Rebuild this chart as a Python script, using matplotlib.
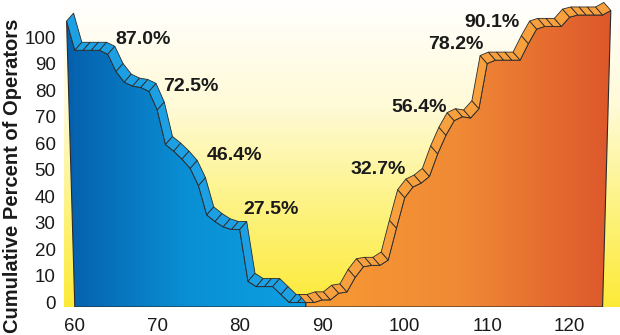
import numpy as np
import matplotlib
matplotlib.use("Agg")
import matplotlib.pyplot as plt
from matplotlib.colors import LinearSegmentedColormap
from matplotlib.patches import Polygon

# ---------------- data ----------------
blue_x = list(range(59, 89))
blue_y = [106, 95, 95, 95, 95, 93.5, 87.0, 83, 81.5, 81, 79.5, 72.5, 59.5, 57, 54,
          50.5, 44, 33, 30.5, 28.5, 27.5, 27.5, 8, 6, 6, 6, 3, 0, 0, 0]

orange_x = list(range(88, 126))
orange_y = [0, 0, 1, 1, 3.5, 4, 9.5, 13.5, 14, 14, 16, 28, 39.5, 43.5, 45, 47.5, 56,
            63, 68.5, 70, 69.5, 73, 90, 91.3, 91.3, 91.3, 91.3, 97.5, 103, 104, 104,
            104, 107.5, 108.3, 108.3, 108.3, 108.3, 110]

left_labels = ["87.0%", "72.5%", "46.4%", "27.5%"]
left_label_x = [64.9, 70.7, 76.0, 80.4]
left_label_y = [98.9, 81.2, 55.5, 34.9]
right_labels = ["32.7%", "56.4%", "78.2%", "90.1%"]
right_label_x = [100.2, 105.1, 109.6, 114.0]
right_label_y = [50.0, 73.6, 97.0, 105.3]

x_ticks = [60, 70, 80, 90, 100, 110, 120]
y_ticks = list(range(0, 101, 10))
y_label = "Cumulative Percent of Operators"

# ---------------- figure ----------------
W, H = 620, 335
fig = plt.figure(figsize=(W / 100, H / 100), dpi=100)
ax_left, ax_right, ax_top, ax_bottom = 64, 620, 0, 307
ax = fig.add_axes([ax_left / W, (H - ax_bottom) / H, (ax_right - ax_left) / W,
                   (ax_bottom - ax_top) / H])

px_per_x = 8.246
x0_px = 322.2  # pixel of x=90
px_per_y = 2.655
y0_px = 302.5  # pixel of y=0
xmin = 90 + (ax_left - x0_px) / px_per_x
xmax = 90 + (ax_right - x0_px) / px_per_x
ymin = (y0_px - ax_bottom) / px_per_y
ymax = (y0_px - ax_top) / px_per_y
ax.set_xlim(xmin, xmax)
ax.set_ylim(ymin, ymax)
for s in ax.spines.values():
    s.set_visible(False)

# background gradient
bg_cmap = LinearSegmentedColormap.from_list(
    "bg", [(0, "#fcea38"), (0.3, "#fdf27c"), (0.65, "#fffad6"), (1, "#ffffff")])
grad = np.linspace(0, 1, 256).reshape(-1, 1)
ax.imshow(grad, cmap=bg_cmap, aspect="auto", origin="lower",
          extent=[xmin, xmax, ymin, ymax], zorder=0)

blue_cmap = LinearSegmentedColormap.from_list("b", ["#0560ad", "#0a8fd4", "#0da0e2"])
orange_cmap = LinearSegmentedColormap.from_list("o", ["#f89a32", "#f08a36", "#dd572b"])


def front_face(xs, ys, cmap):
    verts = [(xs[1] if xs is blue_x else xs[0], ymin)] + list(zip(xs, ys)) + \
            [(xs[-2] if xs is orange_x else xs[-1], ymin)]
    poly = Polygon(verts, closed=True, facecolor="none", edgecolor="#2b2b2b",
                   lw=0.8, zorder=2.5)
    ax.add_patch(poly)
    hgrad = np.linspace(0, 1, 256).reshape(1, -1)
    im = ax.imshow(hgrad, cmap=cmap, aspect="auto", origin="lower",
                   extent=[min(xs), max(xs), ymin, max(ys) + 1], zorder=2)
    im.set_clip_path(poly)


def ribbon(xs, ys, dx_px, dy_px, color):
    pts = ax.transData.transform(np.column_stack([xs, ys]))
    back = ax.transData.inverted().transform(pts + np.array([dx_px, dy_px]))
    for i in range(len(xs) - 1):
        quad = [(xs[i], ys[i]), (xs[i + 1], ys[i + 1]),
                tuple(back[i + 1]), tuple(back[i])]
        ax.add_patch(Polygon(quad, closed=True, facecolor=color,
                             edgecolor="#2b2b2b", lw=0.6, zorder=3))


front_face(blue_x, blue_y, blue_cmap)
front_face(orange_x, orange_y, orange_cmap)
ribbon(blue_x, blue_y, 7, 8, "#1c9fe3")
ribbon(orange_x, orange_y, -7, 8, "#f8a03e")

lab_font = dict(family="Liberation Sans", fontsize=14, fontweight="bold", color="#1a1a1a")
for t, x, y in zip(left_labels, left_label_x, left_label_y):
    ax.text(x, y, t, ha="left", va="center", zorder=5, **lab_font)
for t, x, y in zip(right_labels, right_label_x, right_label_y):
    ax.text(x, y, t, ha="right", va="center", zorder=5, **lab_font)

ax.set_xticks(x_ticks)
ax.set_yticks(y_ticks)
ax.tick_params(length=0, labelsize=13.5, colors="#1a1a1a")
ax.tick_params(axis="y", pad=6)
ax.tick_params(axis="x", pad=8)
for lab in ax.get_xticklabels() + ax.get_yticklabels():
    lab.set_family("Liberation Sans")

fig.text(13 / W, 1 - 176 / H, y_label, rotation=90, ha="center", va="center",
         family="Liberation Sans", fontsize=14.5, fontweight="bold", color="#1a1a1a")

fig.savefig("out.png", dpi=100)
